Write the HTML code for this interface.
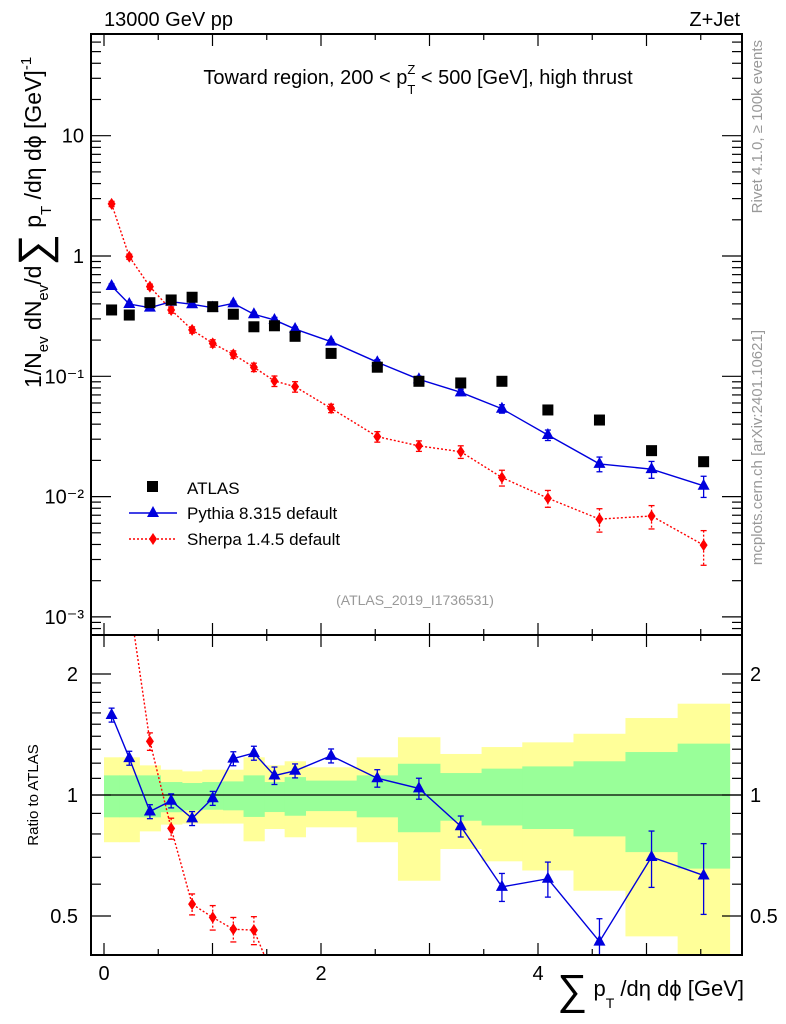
<!DOCTYPE html>
<html><head><meta charset="utf-8">
<style>
html,body{margin:0;background:#fff;overflow:hidden;width:786px;height:1024px;}
svg{display:block;font-family:"Liberation Sans",sans-serif;}
</style></head>
<body>
<svg id="c" width="786" height="1024" viewBox="0 0 786 1024" xmlns="http://www.w3.org/2000/svg">
<text x="104" y="26" font-size="20">13000 GeV pp</text>
<text x="740" y="26" font-size="20" text-anchor="end">Z+Jet</text>
<text x="418" y="84" font-size="20" text-anchor="middle">Toward region, 200 &lt; p<tspan font-size="13" dy="10">T</tspan><tspan font-size="13" dx="-8" dy="-20">Z</tspan><tspan dy="10"> &lt; 500 [GeV], high thrust</tspan></text>
<text transform="translate(41,388) rotate(-90)" font-size="23">1/N<tspan font-size="15" dy="7">ev</tspan><tspan dy="-7"> dN</tspan><tspan font-size="15" dy="7">ev</tspan><tspan dy="-7">/d</tspan><tspan font-size="44" dy="8">∑</tspan><tspan dy="-8"> p</tspan><tspan font-size="15" dy="10">T</tspan><tspan dy="-10"> /dη dϕ  [GeV]</tspan><tspan font-size="15" dy="-10">-1</tspan></text>
<text transform="translate(38,795) rotate(-90)" font-size="15" text-anchor="middle">Ratio to ATLAS</text>
<text x="744" y="996" font-size="22" text-anchor="end"><tspan font-size="42" dy="8">∑</tspan><tspan dy="-8"> p</tspan><tspan font-size="14" dy="12">T</tspan><tspan dy="-12"> /dη dϕ [GeV]</tspan></text>
<text transform="translate(762,40) rotate(-90)" font-size="15" fill="#999" text-anchor="end">Rivet 4.1.0, ≥ 100k events</text>
<text transform="translate(762,330) rotate(-90)" font-size="15" fill="#999" text-anchor="end">mcplots.cern.ch [arXiv:2401.10621]</text>
<text x="415" y="605" font-size="14" fill="#999" text-anchor="middle">(ATLAS_2019_I1736531)</text>
<g id="plot"></g>
</svg>
<script>
const edges=[0,0.14,0.326,0.52,0.718,0.906,1.098,1.286,1.477,1.665,1.857,2.329,2.709,3.096,3.48,3.855,4.327,4.806,5.287,5.766];
const atlas=[0.356,0.323,0.409,0.431,0.454,0.379,0.328,0.258,0.263,0.215,0.155,0.119,0.0909,0.088,0.0909,0.0525,0.0433,0.0241,0.0195];
const pythia=[0.563,0.399,0.372,0.417,0.397,0.372,0.404,0.328,0.294,0.247,0.194,0.131,0.0944,0.0736,0.0537,0.0325,0.0187,0.0169,0.0123];
const pythiaErr=[0.04,0.04,0.04,0.04,0.04,0.04,0.04,0.04,0.05,0.04,0.04,0.05,0.06,0.06,0.08,0.1,0.14,0.16,0.2];
const sherpa=[2.71,0.987,0.556,0.356,0.243,0.188,0.152,0.119,0.0914,0.082,0.0542,0.0315,0.0264,0.0236,0.0144,0.0097,0.0065,0.0069,0.00395];
const sherpaErr=[0.05,0.05,0.05,0.06,0.06,0.07,0.07,0.08,0.1,0.1,0.08,0.1,0.1,0.12,0.15,0.16,0.22,0.22,0.32];
const yellowHi=[1.241,1.241,1.185,1.156,1.145,1.156,1.156,1.241,1.185,1.213,1.172,1.241,1.392,1.265,1.316,1.352,1.420,1.554,1.687];
const yellowLo=[0.763,0.763,0.812,0.844,0.849,0.849,0.849,0.767,0.823,0.785,0.831,0.763,0.612,0.734,0.684,0.649,0.578,0.445,0.382];
const greenHi=[1.119,1.119,1.119,1.077,1.071,1.077,1.081,1.119,1.077,1.108,1.086,1.119,1.196,1.134,1.163,1.178,1.213,1.279,1.342];
const greenLo=[0.880,0.880,0.880,0.906,0.916,0.919,0.916,0.882,0.907,0.888,0.912,0.880,0.808,0.863,0.840,0.823,0.789,0.721,0.656];
const xTicks=[0,2,4];
const yTicks=[0.001,0.01,0.1,1,10];
const yTickLabels=["10\u207B\u00B3","10\u207B\u00B2","10\u207B\u00B9","1","10"];
const rTicks=[0.5,1,2];

const NS="http://www.w3.org/2000/svg";
const g=document.getElementById('plot');
const L=91,R=742,T=34,MB=635,RB=955;
const X=v=>104+v*108.5;
const Y=v=>256-Math.log10(v)*120.3;
const RY=v=>795-Math.log10(v)*402;
function el(tag,attrs,parent){const e=document.createElementNS(NS,tag);for(const k in attrs)e.setAttribute(k,attrs[k]);(parent||g).appendChild(e);return e;}
const mids=edges.slice(0,-1).map((e,i)=>(e+edges[i+1])/2);

const defs=el('defs',{});
const cp=el('clipPath',{id:'rc'},defs);el('rect',{x:L,y:MB,width:R-L,height:RB-MB},cp);
const cp2=el('clipPath',{id:'mc'},defs);el('rect',{x:L,y:T,width:R-L,height:MB-T},cp2);

const bands=el('g',{'clip-path':'url(#rc)'});


for(let i=0;i<mids.length;i++){
  const yb=el('rect',{x:X(edges[i]),y:RY(yellowHi[i]),width:X(edges[i+1])-X(edges[i])+0.5,height:RY(yellowLo[i])-RY(yellowHi[i]),fill:'#ffff99'},bands);
  
  
}
for(let i=0;i<mids.length;i++){
  const gb=el('rect',{x:X(edges[i]),y:RY(greenHi[i]),width:X(edges[i+1])-X(edges[i])+0.5,height:RY(greenLo[i])-RY(greenHi[i]),fill:'#99ff99'},bands);
  
  
}
el('line',{x1:L,x2:R,y1:RY(1),y2:RY(1),stroke:'#000','stroke-width':1.3});

function tri(p,x,y,c){el('path',{d:`M${x},${y-7}L${x+6},${y+4}L${x-6},${y+4}Z`,fill:c},p);}
function dia(p,x,y,c){el('path',{d:`M${x},${y-6}L${x+4},${y}L${x},${y+6}L${x-4},${y}Z`,fill:c},p);}

function series(vals,errs,Yf,color,dash,marker,name,clip,minV){
  const grp=el('g',{'clip-path':clip});
  
  
  let d='';
  vals.forEach((v,i)=>{d+=(i?'L':'M')+X(mids[i])+','+Yf(v);});
  el('path',{d:d,fill:'none',stroke:color,'stroke-width':1.4,'stroke-dasharray':dash||'none'},grp);
  vals.forEach((v,i)=>{
    if(minV&&v<minV)return;
    const x=X(mids[i]);const y1=Yf(v*(1+errs[i])),y2=Yf(v*(1-errs[i]));
    el('line',{x1:x,x2:x,y1:y1,y2:y2,stroke:color,'stroke-width':1.3,'stroke-dasharray':dash||'none'},grp);
    el('line',{x1:x-3,x2:x+3,y1:y1,y2:y1,stroke:color,'stroke-width':1.3},grp);
    el('line',{x1:x-3,x2:x+3,y1:y2,y2:y2,stroke:color,'stroke-width':1.3},grp);
    if(marker==='t')tri(grp,x,Yf(v),color);else dia(grp,x,Yf(v),color);
  });
}
series(sherpa,sherpaErr,Y,'#ff0000','2,2','d','sherpa-series','url(#mc)');
series(pythia,pythiaErr,Y,'#0000dd',null,'t','pythia-series','url(#mc)');
const ag=el('g',{});


atlas.forEach((v,i)=>{el('rect',{x:X(mids[i])-5.5,y:Y(v)-5.5,width:11,height:11,fill:'#000'},ag);});
series(sherpa.map((v,i)=>v/atlas[i]),sherpaErr,RY,'#ff0000','2,2','d','sherpa-ratio','url(#rc)',0.4);
series(pythia.map((v,i)=>v/atlas[i]),pythiaErr,RY,'#0000dd',null,'t','pythia-ratio','url(#rc)');

el('rect',{x:L,y:T,width:R-L,height:MB-T,fill:'none',stroke:'#000','stroke-width':2});
el('rect',{x:L,y:MB,width:R-L,height:RB-MB,fill:'none',stroke:'#000','stroke-width':2});
for(let v=0;v<=5.9;v+=0.5){
  const x=X(v),len=(Math.abs(v-Math.round(v))<0.01)?12:6;
  [[MB,-1],[T,1],[RB,-1],[MB,1]].forEach(([y,s])=>el('line',{x1:x,x2:x,y1:y,y2:y+s*len,stroke:'#000','stroke-width':1.2}));
}
xTicks.forEach(v=>{const t=el('text',{x:X(v),y:980,'font-size':20,'text-anchor':'middle'});t.textContent=v;

});
for(let e=-4;e<=1;e++)for(let m=1;m<=9;m++){
  const v=m*Math.pow(10,e),y=Y(v);if(y<T||y>MB)continue;
  const len=m===1?20:10;
  el('line',{x1:L,x2:L+len,y1:y,y2:y,stroke:'#000','stroke-width':1.2});
  el('line',{x1:R,x2:R-len,y1:y,y2:y,stroke:'#000','stroke-width':1.2});
}
yTicks.forEach((v,i)=>{const t=el('text',{x:84,y:Y(v)+7,'font-size':20,'text-anchor':'end'});t.textContent=yTickLabels[i];

});
for(let v=0.4;v<=2.51;v+=(v<1.95?0.1:0.5)){
  const y=RY(v);if(y<MB||y>RB)continue;
  const major=rTicks.some(r=>Math.abs(r-v)<0.01);const len=major?20:10;
  el('line',{x1:L,x2:L+len,y1:y,y2:y,stroke:'#000','stroke-width':1.2});
  el('line',{x1:R,x2:R-len,y1:y,y2:y,stroke:'#000','stroke-width':1.2});
}
rTicks.forEach(v=>{
  const t=el('text',{x:78,y:RY(v)+7,'font-size':20,'text-anchor':'end'});t.textContent=v;
  
  
  const t2=el('text',{x:750,y:RY(v)+7,'font-size':20});t2.textContent=v;
  
  
});
const lg=el('g',{});


el('rect',{x:147,y:481,width:11,height:11,fill:'#000'},lg);
let t=el('text',{x:187,y:494,'font-size':17},lg);t.textContent='ATLAS';
el('line',{x1:129,x2:177,y1:513,y2:513,stroke:'#0000dd','stroke-width':1.4},lg);tri(lg,153,513,'#0000dd');
t=el('text',{x:187,y:519,'font-size':17},lg);t.textContent='Pythia 8.315 default';
el('line',{x1:129,x2:177,y1:539,y2:539,stroke:'#ff0000','stroke-width':1.4,'stroke-dasharray':'2,2'},lg);dia(lg,153,539,'#ff0000');
t=el('text',{x:187,y:545,'font-size':17},lg);t.textContent='Sherpa 1.4.5 default';
</script>
</body></html>
